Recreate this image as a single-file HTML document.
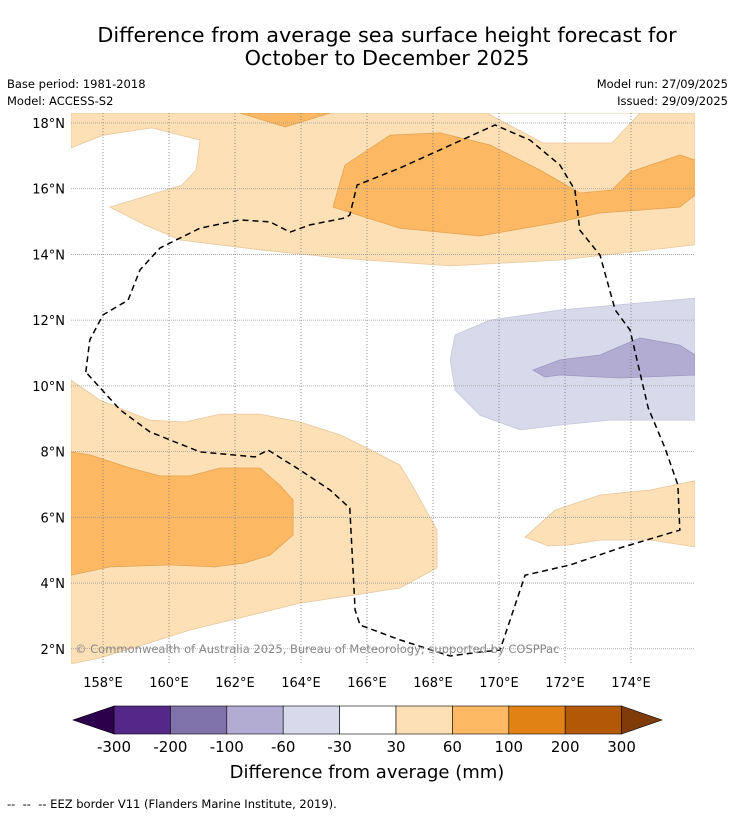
<!DOCTYPE html>
<html><head><meta charset="utf-8"><style>
body{margin:0;background:#fff;width:736px;height:816px;overflow:hidden;font-family:"DejaVu Sans","Liberation Sans",sans-serif;}
svg{position:absolute;left:0;top:0;}
</style></head><body>
<svg id="chart" width="736" height="816" viewBox="0 0 736 816" font-family="DejaVu Sans, Liberation Sans, sans-serif">
<text x="387" y="42" font-size="20.8" text-anchor="middle">Difference from average sea surface height forecast for</text>
<text x="387" y="65" font-size="20.8" text-anchor="middle">October to December 2025</text>
<text x="7" y="88" font-size="11.5">Base period: 1981-2018</text>
<text x="7" y="105" font-size="11.5">Model: ACCESS-S2</text>
<text x="728" y="88" font-size="11.5" text-anchor="end">Model run: 27/09/2025</text>
<text x="728" y="105" font-size="11.5" text-anchor="end">Issued: 29/09/2025</text>
<defs><clipPath id="mapclip"><rect x="71" y="113" width="624" height="552"/></clipPath></defs>
<g id="map" clip-path="url(#mapclip)"></g>
<g id="grid"></g>
<g id="labels"></g>
<text x="75" y="653" font-size="11.5" fill="#888">© Commonwealth of Australia 2025, Bureau of Meteorology; supported by COSPPac</text>
<g id="cbar"></g>
<text x="367" y="778" font-size="18" text-anchor="middle">Difference from average (mm)</text>
<text x="7" y="808" font-size="11.5">-- &#160;-- &#160;-- EEZ border V11 (Flanders Marine Institute, 2019).</text>
</svg>
<script>
const NS='http://www.w3.org/2000/svg';
const lonTicks=[158,160,162,164,166,168,170,172,174];
const latTicks=[2,4,6,8,10,12,14,16,18];
const cbLevels=[-300,-200,-100,-60,-30,30,60,100,200,300];
const cbColors=['#542788','#8073ac','#b2abd2','#d8daeb','#ffffff','#fee0b6','#fdb863','#e08214','#b35806'];
const extLow='#2d004b', extHigh='#7f3b08';
const lightOrangeTop=[[157.03,18.3],[157.03,17.24],[158,17.63],[159.48,17.85],[160.94,17.48],[160.82,16.57],[160.39,16.11],[158.21,15.44],[159.27,14.9],[160.33,14.44],[162.76,14.14],[165.18,13.89],[168.52,13.65],[171.85,13.83],[175.94,14.29],[175.94,18.3]];
const whiteTopRight=[[169.64,18.3],[171.33,17.39],[173.42,17.39],[174.27,18.3]];
const medOrangeTop=[[162.15,18.3],[163.52,17.88],[164.88,18.3]];
const medOrangeBand=[[164.97,15.44],[165.33,16.72],[166.7,17.63],[168.21,17.7],[169.73,17.33],[171.24,16.57],[172.45,15.87],[173.42,15.96],[173.97,16.51],[175.48,17.03],[175.94,16.87],[175.94,15.81],[175.48,15.44],[173.06,15.26],[171.85,14.99],[169.42,14.56],[167,14.8],[164.97,15.44]];
const purpleLight=[[168.67,11.55],[169.73,12.0],[171.85,12.31],[175.94,12.67],[175.94,8.96],[173.36,8.96],[171.85,8.81],[170.64,8.66],[169.42,9.11],[168.67,9.87],[168.52,10.79]];
const purpleMid=[[171.03,10.48],[171.85,10.79],[173.06,10.94],[174.27,11.46],[175.48,11.24],[175.94,10.94],[175.94,10.33],[173.67,10.24],[171.85,10.33],[171.39,10.27]];
const lightOrangeLow=[[157.03,10.18],[157.9,9.57],[159.42,8.96],[160.48,8.9],[161.55,9.14],[162.76,9.14],[163.97,8.9],[165.18,8.51],[166.24,7.99],[167,7.59],[167.45,6.83],[168.12,5.61],[168.12,4.46],[167,3.85],[165.18,3.57],[163.97,3.39],[162.15,2.94],[160.64,2.57],[159.42,2.18],[157.9,1.72],[157.03,1.54]];
const medOrangeLow=[[157.03,7.99],[157.6,7.9],[158.82,7.5],[159.73,7.26],[160.64,7.26],[161.55,7.5],[162.76,7.5],[163.36,6.98],[163.76,6.53],[163.76,5.46],[163.06,4.85],[162.3,4.61],[161.39,4.49],[160.03,4.55],[158.21,4.49],[157.03,4.24]];
const lightOrangeRight=[[170.79,5.4],[171.7,6.22],[173.06,6.68],[174.58,6.83],[175.94,7.11],[175.94,5.1],[174.58,5.31],[173.06,5.31],[172.15,5.16],[171.48,5.13]];
const eez=[[157.48,10.42],[157.6,11.4],[158,12.16],[158.76,12.61],[159.12,13.53],[159.73,14.2],[160.94,14.8],[162.15,15.05],[163.06,14.99],[163.67,14.68],[164.27,14.9],[165.33,15.11],[165.48,15.2],[165.7,16.11],[167,16.63],[168.21,17.18],[169.88,17.94],[170.94,17.48],[171.85,16.72],[172.3,15.96],[172.45,14.74],[173.06,13.98],[173.52,12.31],[173.97,11.7],[174.52,9.33],[175.03,8.11],[175.42,6.98],[175.48,5.61],[173.67,5.07],[172.15,4.55],[170.79,4.24],[170.03,1.96],[169.42,1.9],[168.52,1.78],[167,2.27],[165.79,2.72],[165.64,3.18],[165.48,6.28],[164.88,6.83],[163.97,7.44],[163,8.05],[162.61,7.84],[160.94,7.99],[159.42,8.6],[158.52,9.27],[157.48,10.42]];
function X(lon){return 103+(lon-158)*33;}
function Y(lat){return 123-(lat-18)*32.86;}
function pts(a){return a.map(p=>X(p[0]).toFixed(1)+','+Y(p[1]).toFixed(1)).join(' ');}
const map=document.getElementById('map');
function poly(a,fill,stroke,name){
 const e=document.createElementNS(NS,'polygon');
 e.setAttribute('points',pts(a));e.setAttribute('fill',fill);
 e.setAttribute('stroke',stroke);e.setAttribute('stroke-width','0.8');
 
 
 map.appendChild(e);
}
poly(lightOrangeTop,'#fee0b6','#e8c79c','contour-30-60-north');
poly(whiteTopRight,'#ffffff','#e8c79c','contour-below-30-northeast');
poly(medOrangeTop,'#fdb863','#e3a353','contour-60-100-north-top');
poly(medOrangeBand,'#fdb863','#e3a353','contour-60-100-north-band');
poly(purpleLight,'#d8daeb','#c4c5dc','contour-minus30-minus60');
poly(purpleMid,'#b2abd2','#9d96c0','contour-minus60-minus100');
poly(lightOrangeLow,'#fee0b6','#e8c79c','contour-30-60-southwest');
poly(medOrangeLow,'#fdb863','#e3a353','contour-60-100-southwest');
poly(lightOrangeRight,'#fee0b6','#e8c79c','contour-30-60-southeast');
const grid=document.getElementById('grid');
lonTicks.forEach(l=>{const e=document.createElementNS(NS,'line');
 e.setAttribute('x1',X(l));e.setAttribute('x2',X(l));e.setAttribute('y1',113);e.setAttribute('y2',665);
 e.setAttribute('stroke','#777');e.setAttribute('stroke-width','0.8');e.setAttribute('stroke-dasharray','1,2');
 
 
 grid.appendChild(e);});
latTicks.forEach(l=>{const e=document.createElementNS(NS,'line');
 e.setAttribute('x1',71);e.setAttribute('x2',695);e.setAttribute('y1',Y(l));e.setAttribute('y2',Y(l));
 e.setAttribute('stroke','#999');e.setAttribute('stroke-width','0.8');e.setAttribute('stroke-dasharray','1,1');
 
 
 grid.appendChild(e);});
const ez=document.createElementNS(NS,'polyline');
ez.setAttribute('points',pts(eez));ez.setAttribute('fill','none');ez.setAttribute('stroke','#000');
ez.setAttribute('stroke-width','1.5');ez.setAttribute('stroke-dasharray','6,4');


grid.appendChild(ez);
const lab=document.getElementById('labels');
lonTicks.forEach(l=>{const t=document.createElementNS(NS,'text');
 t.setAttribute('x',X(l));t.setAttribute('y',687);t.setAttribute('font-size','13');t.setAttribute('text-anchor','middle');
 t.textContent=l+'°E';
 
 
 lab.appendChild(t);});
latTicks.forEach(l=>{const t=document.createElementNS(NS,'text');
 t.setAttribute('x',65);t.setAttribute('y',Y(l)+5);t.setAttribute('font-size','13');t.setAttribute('text-anchor','end');
 t.textContent=l+'°N';
 
 
 lab.appendChild(t);});
const cb=document.getElementById('cbar');
const bw=56.4,bx0=114,by=706,bh=28;
cbColors.forEach((c,i)=>{const r=document.createElementNS(NS,'rect');
 r.setAttribute('x',bx0+i*bw);r.setAttribute('y',by);r.setAttribute('width',bw);r.setAttribute('height',bh);
 r.setAttribute('fill',c);r.setAttribute('stroke','#000');r.setAttribute('stroke-width','0.6');
 
 
 cb.appendChild(r);});
const endX=bx0+cbColors.length*bw;
const tl=document.createElementNS(NS,'polygon');
tl.setAttribute('points',`${bx0},${by} 73,${by+bh/2} ${bx0},${by+bh}`);tl.setAttribute('fill',extLow);tl.setAttribute('stroke','#000');tl.setAttribute('stroke-width','0.6');


cb.appendChild(tl);
const th=document.createElementNS(NS,'polygon');
th.setAttribute('points',`${endX},${by} 662,${by+bh/2} ${endX},${by+bh}`);th.setAttribute('fill',extHigh);th.setAttribute('stroke','#000');th.setAttribute('stroke-width','0.6');


cb.appendChild(th);
cbLevels.forEach((v,i)=>{const t=document.createElementNS(NS,'text');
 t.setAttribute('x',bx0+i*bw);t.setAttribute('y',752);t.setAttribute('font-size','15');t.setAttribute('text-anchor','middle');
 t.textContent=v;
 
 
 cb.appendChild(t);});
</script>
</body></html>
